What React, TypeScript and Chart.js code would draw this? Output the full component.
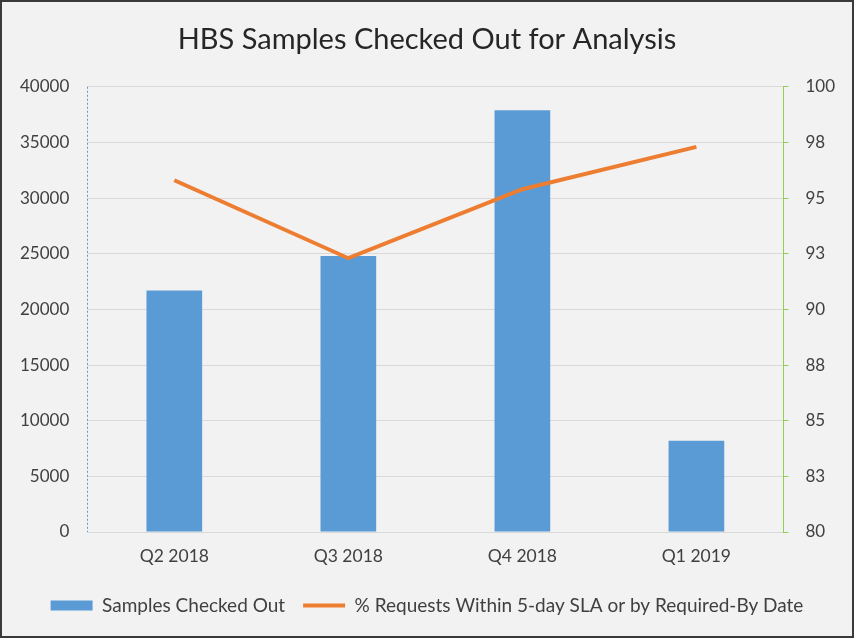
import React, { useEffect, useRef } from "react";
import { Chart, registerables } from "chart.js";

Chart.register(...registerables);

const categories = ["Q2 2018", "Q3 2018", "Q4 2018", "Q1 2019"];
const samplesCheckedOut = [21700, 24800, 37900, 8200];
const pctWithinSla = [95.8, 92.3, 95.4, 97.3];
const leftTicks = [0, 5000, 10000, 15000, 20000, 25000, 30000, 35000, 40000];
const rightTicks = [80, 82.5, 85, 87.5, 90, 92.5, 95, 97.5, 100];

const FONT = "Lato, 'Open Sans', sans-serif";
const TEXT = "#404040";

const dashedLeftAxis = {
  id: "dashedLeftAxis",
  afterDraw(chart: any) {
    const s = chart.scales.y;
    const ctx = chart.ctx;
    const x = Math.round(s.right) + 0.5;
    ctx.save();
    ctx.strokeStyle = "#5b9bd5";
    ctx.lineWidth = 1;
    ctx.setLineDash([2, 2]);
    ctx.beginPath();
    ctx.moveTo(x, s.top);
    ctx.lineTo(x, s.bottom);
    ctx.stroke();
    ctx.restore();
  },
};

export default function App() {
  const ref = useRef<HTMLCanvasElement | null>(null);
  useEffect(() => {
    if (!ref.current) return;
    const chart = new Chart(ref.current, {
      type: "bar",
      data: {
        labels: categories,
        datasets: [
          {
            type: "line",
            label: "% Requests Within 5-day SLA or by Required-By Date",
            data: pctWithinSla,
            borderColor: "#ed7d31",
            backgroundColor: "#ed7d31",
            borderWidth: 4,
            pointRadius: 0,
            pointStyle: "line",
            tension: 0,
            yAxisID: "y1",
            order: 0,
          } as any,
          {
            type: "bar",
            label: "Samples Checked Out",
            data: samplesCheckedOut,
            backgroundColor: "#5b9bd5",
            borderWidth: 0,
            pointStyle: "rect",
            barPercentage: 0.32,
            categoryPercentage: 1,
            yAxisID: "y",
            order: 1,
          } as any,
        ],
      },
      options: {
        animation: false,
        responsive: true,
        maintainAspectRatio: false,
        layout: { padding: { left: 0, right: 0, top: 6, bottom: 11 } },
        plugins: {
          title: {
            display: true,
            text: "HBS Samples Checked Out for Analysis",
            color: "#262626",
            font: { family: FONT, size: 29, weight: "normal" },
            padding: { top: 14, bottom: 30 },
          },
          legend: {
            position: "bottom",
            reverse: true,
            labels: {
              usePointStyle: true,
              pointStyleWidth: 42,
              boxHeight: 10,
              color: TEXT,
              font: { family: FONT, size: 19 },
              padding: 18,
            },
          },
          tooltip: { enabled: false },
        },
        scales: {
          x: {
            grid: { display: false },
            border: { color: "#d9d9d9" },
            ticks: { color: TEXT, font: { family: FONT, size: 17.5 }, padding: 6 },
            afterFit: (s: any) => {
              s.height += 5;
            },
          } as any,
          y: {
            position: "left",
            min: 0,
            max: 40000,
            afterBuildTicks: (axis: any) => {
              axis.ticks = leftTicks.map((v) => ({ value: v }));
            },
            grid: { color: "#d9d9d9", lineWidth: 1, drawTicks: false },
            border: { display: false },
            ticks: {
              color: TEXT,
              font: { family: FONT, size: 17 },
              padding: 18,
              callback: (v: any) => String(v),
            },
          } as any,
          y1: {
            position: "right",
            min: 80,
            max: 100,
            afterBuildTicks: (axis: any) => {
              axis.ticks = rightTicks.map((v) => ({ value: v }));
            },
            grid: { drawOnChartArea: false, color: "#92d050", tickLength: 5 },
            border: { color: "#92d050", width: 1 },
            ticks: {
              color: TEXT,
              font: { family: FONT, size: 17 },
              padding: 17,
              callback: (v: any) => String(Math.round(Number(v) + 1e-9)),
            },
          } as any,
        },
      },
      plugins: [dashedLeftAxis],
    });
    return () => chart.destroy();
  }, []);
  return (
    <div
      style={{
        position: "absolute",
        left: 0,
        top: 0,
        width: 854,
        height: 638,
        boxSizing: "border-box",
        border: "2px solid #3a3a3a",
        background: "#f2f2f2",
      }}
    >
      <canvas ref={ref} />
    </div>
  );
}
